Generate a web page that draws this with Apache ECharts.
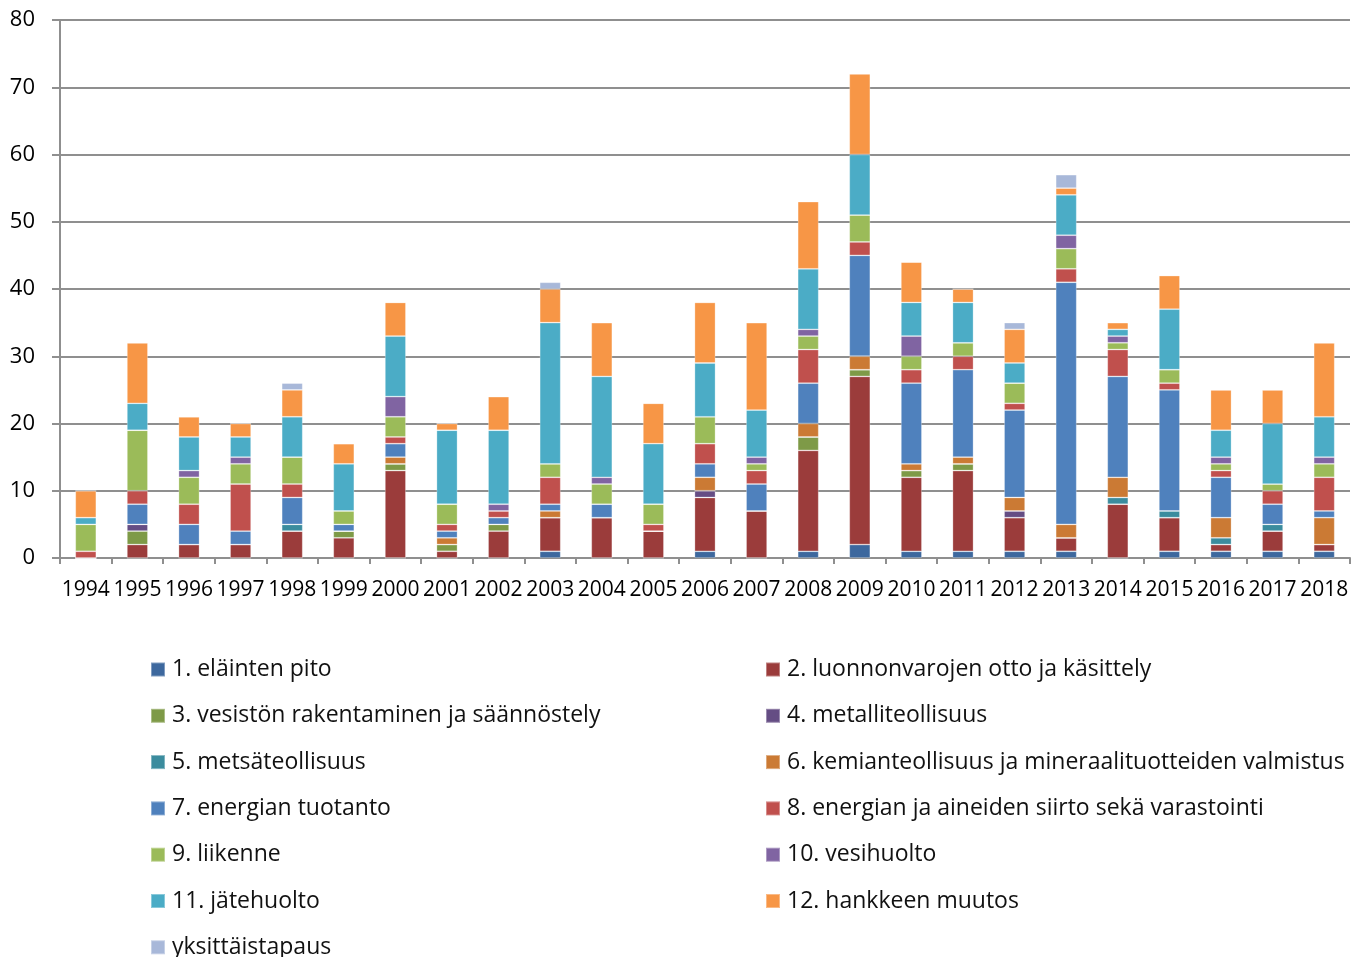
<!DOCTYPE html>
<html>
<head>
<meta charset="utf-8">
<script src="https://cdn.jsdelivr.net/npm/echarts@6/dist/echarts.min.js"></script>
<style>html,body{margin:0;padding:0;background:#fff}#c{width:1367px;height:957px}</style>
</head>
<body>
<div id="c"></div>
<script>
const years = ['1994','1995','1996','1997','1998','1999','2000','2001','2002','2003','2004','2005','2006','2007','2008','2009','2010','2011','2012','2013','2014','2015','2016','2017','2018'];
const names = ['1. eläinten pito','2. luonnonvarojen otto ja käsittely','3. vesistön rakentaminen ja säännöstely','4. metalliteollisuus','5. metsäteollisuus','6. kemianteollisuus ja mineraalituotteiden valmistus','7. energian tuotanto','8. energian ja aineiden siirto sekä varastointi','9. liikenne','10. vesihuolto','11. jätehuolto','12. hankkeen muutos','yksittäistapaus'];
const colors = ['#3D689E','#9B3C3B','#7E9A47','#654D84','#3B8C9E','#CB7A34','#4F81BD','#C0504D','#9BBB59','#8064A2','#4BACC6','#F79646','#A8B8D9'];
const s1  = [0,0,0,0,0,0,0,0,0,1,0,0,1,0,1,2,1,1,1,1,0,1,1,1,1];
const s2  = [0,2,2,2,4,3,13,1,4,5,6,4,8,7,15,25,11,12,5,2,8,5,1,3,1];
const s3  = [0,2,0,0,0,1,1,1,1,0,0,0,0,0,2,1,1,1,0,0,0,0,0,0,0];
const s4  = [0,1,0,0,0,0,0,0,0,0,0,0,1,0,0,0,0,0,1,0,0,0,0,0,0];
const s5  = [0,0,0,0,1,0,0,0,0,0,0,0,0,0,0,0,0,0,0,0,1,1,1,1,0];
const s6  = [0,0,0,0,0,0,1,1,0,1,0,0,2,0,2,2,1,1,2,2,3,0,3,0,4];
const s7  = [0,3,3,2,4,1,2,1,1,1,2,0,2,4,6,15,12,13,13,36,15,18,6,3,1];
const s8  = [1,2,3,7,2,0,1,1,1,4,0,1,3,2,5,2,2,2,1,2,4,1,1,2,5];
const s9  = [4,9,4,3,4,2,3,3,0,2,3,3,4,1,2,4,2,2,3,3,1,2,1,1,2];
const s10 = [0,0,1,1,0,0,3,0,1,0,1,0,0,1,1,0,3,0,0,2,1,0,1,0,1];
const s11 = [1,4,5,3,6,7,9,11,11,21,15,9,8,7,9,9,5,6,3,6,1,9,4,9,6];
const s12 = [4,9,3,2,4,3,5,1,5,5,8,6,9,13,10,12,6,2,5,1,1,5,6,5,11];
const s13 = [0,0,0,0,1,0,0,0,0,1,0,0,0,0,0,0,0,0,1,2,0,0,0,0,0];
const yTicks = ['0','10','20','30','40','50','60','70','80'];
const seriesData = [s1,s2,s3,s4,s5,s6,s7,s8,s9,s10,s11,s12,s13];

const FONT = 'Open Sans';
const chart = echarts.init(document.getElementById('c'), null, {renderer:'canvas'});
const legendCommon = {
  orient:'vertical', itemWidth:14, itemHeight:14, itemGap:23.3, icon:'rect', padding:0,
  height:320,
  textStyle:{fontFamily:FONT, fontSize:23, color:'#111', lineHeight:20, padding:[0,0,0,2]},
  selectedMode:false
};
chart.setOption({
  animation:false,
  color: colors,
  grid:{left:60, right:17, top:20, bottom:399, containLabel:false},
  legend:[
    Object.assign({left:150, top:658, data:names.filter((n,i)=>i%2===0)}, legendCommon),
    Object.assign({left:765, top:658, data:names.filter((n,i)=>i%2===1)}, legendCommon)
  ],
  xAxis:{
    type:'category', data:years, boundaryGap:true,
    axisLine:{lineStyle:{color:'#8f8f8f', width:2}},
    axisTick:{show:true, alignWithLabel:false, length:6, lineStyle:{color:'#8f8f8f', width:2}},
    axisLabel:{fontFamily:FONT, fontSize:21, color:'#000', margin:22, interval:0}
  },
  yAxis:{
    type:'value', min:0, max:80, interval:10,
    axisLine:{show:true, lineStyle:{color:'#8f8f8f', width:2}},
    axisTick:{show:true, length:8, lineStyle:{color:'#8f8f8f', width:2}},
    splitLine:{lineStyle:{color:'#8f8f8f', width:2}},
    axisLabel:{fontFamily:FONT, fontSize:22, color:'#000', margin:25, formatter:(v)=>yTicks[Math.round(v/10)]}
  },
  series: seriesData.map((d,i)=>({
    name:names[i], type:'bar', stack:'total', data:d, barWidth:21,
    itemStyle:{color:colors[i], borderColor:'rgba(255,255,255,0.35)', borderWidth:0.8}
  }))
});
</script>
</body>
</html>
